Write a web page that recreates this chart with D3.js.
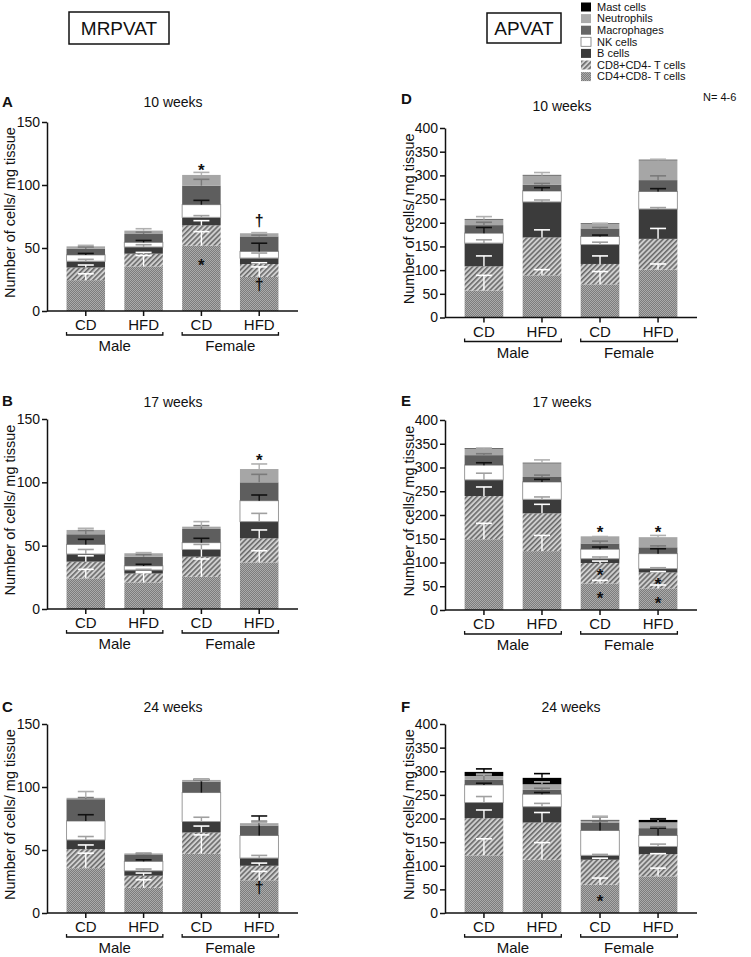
<!DOCTYPE html>
<html><head><meta charset="utf-8">
<script src="https://cdn.jsdelivr.net/npm/d3@7"></script>
<style>
body{margin:0;background:#fff}
svg{display:block}
text{font-family:"Liberation Sans",Arial,Helvetica,sans-serif;fill:#111}
</style>
</head><body><svg id="c" width="751" height="957"></svg>
<script>
// ---------- DATA ----------
const cellTypes = ["CD4+CD8- T cells","CD8+CD4- T cells","B cells","NK cells","Macrophages","Neutrophils","Mast cells"];
const diets = ["CD","HFD","CD","HFD"];
const sexes = ["Male","Female"];
const yTicksMRPVAT = [0,50,100,150];
const yTicksAPVAT = [0,50,100,150,200,250,300,350,400];
const panelTitles = {A:"10 weeks",B:"17 weeks",C:"24 weeks",D:"10 weeks",E:"17 weeks",F:"24 weeks"};

// segment values per bar (Male CD, Male HFD, Female CD, Female HFD), in cellTypes order
const valuesA = [[24.5,10,5,5,4.8,2,0],[35.4,10.1,5.3,3.7,6.6,2.7,0],[51.9,16.1,6.3,10.1,15.1,8.5,0],[27,10.3,4.7,5.3,11.9,2.5,0]];
const errorsA = [[5,2,1.5,1.2,1.5,0.8,0],[8.6,1,1.8,1.5,1.5,1.5,0],[11.1,3.7,1.4,3.4,5,2,0],[8,1,4,6.5,1,0.5,0]];
const valuesB = [[24.2,13.2,6,7.6,8,3.4,0],[21,7,2.8,3.2,7.3,2.7,0],[25.5,15.8,5.7,5.4,10.8,1.8,0],[36.8,19,13.2,16.5,14.5,10.5,0]];
const errorsB = [[7.1,4.6,3.6,4,3,1.3,0],[7.7,1.5,0.5,1.3,1.7,0.5,0],[14,9.5,4,3.4,2.6,4,0],[9.2,6.6,6.5,4.5,6.3,4,0]];
const valuesC = [[35.6,15.1,7.3,15,17.3,1.1,0],[20,9.6,3.9,7.5,5.5,0.8,0],[47,16.9,8.7,23,8.7,1.3,0],[26,11.5,6.1,17.9,7.9,1.9,0]];
const errorsC = [[11.9,3.3,2.7,5,1.3,5,0],[6.4,2.1,1.4,1.2,0.5,0.5,0],[15,5.1,3.4,10.4,1.5,0.5,0],[7,2.1,2.1,15.5,3.5,0.7,0]];
const valuesD = [[57,51,49,21,17,12,1],[89,80,75,23,13,20,1],[70,43,41,17,17,10,1],[101,65,63,37,24,42,1]];
const errorsD = [[32,22,7,12,6,6,0],[12,16,4,7,3,6,0],[27,17,5,3,2,1,0],[12,22,3,6,9,2,0]];
const valuesE = [[149,91,34,31,21,14,1],[124,79.5,29.5,36.5,10.5,29,1],[56,43,9,20,12,13.7,0.5],[45.6,33.4,8,31.6,13.4,20,0.5]];
const errorsE = [[33.5,19,14,5,3,1,0],[33,19,5,5.5,4,7,0],[6.5,4,3.6,4.6,5,1,0],[7,2,2,10.4,3,5,0]];
const valuesF = [[122,78.7,33.1,37.2,10.7,8.3,8.6],[112.7,78.8,33.5,26.4,9.2,11.9,13.5],[60,52.7,9.3,52.6,16.9,4.3,1.2],[77.5,47.1,16.2,23.2,15.6,12.4,5]];
const errorsF = [[35,17.3,12.7,3.6,10,4,6.4],[36.3,21.2,7,3.6,3.4,5,9],[14,3.3,2,29.4,2,8,0],[17.5,1,5,15.6,3,8,2]];

// significance symbols: bar index, y value, symbol
const marksA = [{bar:2,v:117,s:"*"},{bar:2,v:42,s:"*"},{bar:3,v:72,s:"†"},{bar:3,v:21,s:"†"}];
const marksB = [{bar:3,v:123,s:"*"}];
const marksC = [{bar:3,v:20,s:"†"}];
const marksD = [];
const marksE = [{bar:2,v:179,s:"*"},{bar:2,v:88,s:"*"},{bar:2,v:39,s:"*"},{bar:3,v:179,s:"*"},{bar:3,v:70,s:"*"},{bar:3,v:29.5,s:"*"}];
const marksF = [{bar:2,v:39,s:"*"}];

// ---------- STYLE / LAYOUT ----------
const svg = d3.select("#c");
const defs = svg.append("defs");
const p1 = defs.append("pattern").attr("id","checker").attr("width",2).attr("height",2).attr("patternUnits","userSpaceOnUse");
p1.append("rect").attr("width",2).attr("height",2).attr("fill","#7d7d7d");
p1.append("rect").attr("width",1).attr("height",1).attr("fill","#ababab");
p1.append("rect").attr("x",1).attr("y",1).attr("width",1).attr("height",1).attr("fill","#ababab");
const p2 = defs.append("pattern").attr("id","hatch").attr("width",3.6).attr("height",3.6)
  .attr("patternUnits","userSpaceOnUse").attr("patternTransform","rotate(45)");
p2.append("rect").attr("width",3.6).attr("height",3.6).attr("fill","#cfcfcf");
p2.append("line").attr("x1",0.8).attr("y1",0).attr("x2",0.8).attr("y2",3.6).attr("stroke","#6a6a6a").attr("stroke-width",1.6);

const fills = ["url(#checker)","url(#hatch)","#3b3b3b","#ffffff","#5e5e5e","#a6a6a6","#000000"];
const legendFills = ["url(#checker)","url(#hatch)","#3b3b3b","#ffffff","#666666","#ababab","#000000"];
const errColors = ["#ffffff","#ffffff","#a0a0a0","#111111","#7a7a7a","#b0b0b0","#000000"];

const panels = [
  {id:"A",vals:valuesA,errs:errorsA,marks:marksA,x0:47,x1:298,top:122,zero:311,max:150,ticks:yTicksMRPVAT,titleY:102,letterX:2,letterY:102,titleX:173,ylabX:10},
  {id:"B",vals:valuesB,errs:errorsB,marks:marksB,x0:47,x1:298,top:419,zero:609,max:150,ticks:yTicksMRPVAT,titleY:402,letterX:2,letterY:401,titleX:173,ylabX:10},
  {id:"C",vals:valuesC,errs:errorsC,marks:marksC,x0:47,x1:298,top:724,zero:913,max:150,ticks:yTicksMRPVAT,titleY:707,letterX:2,letterY:707,titleX:173,ylabX:10},
  {id:"D",vals:valuesD,errs:errorsD,marks:marksD,x0:445,x1:697,top:128,zero:317.5,max:400,ticks:yTicksAPVAT,titleY:106,letterX:401,letterY:99,titleX:562,ylabX:409},
  {id:"E",vals:valuesE,errs:errorsE,marks:marksE,x0:445,x1:697,top:420,zero:610,max:400,ticks:yTicksAPVAT,titleY:402,letterX:401,letterY:401,titleX:562,ylabX:409},
  {id:"F",vals:valuesF,errs:errorsF,marks:marksF,x0:445,x1:697,top:724,zero:913,max:400,ticks:yTicksAPVAT,titleY:707,letterX:401,letterY:707,titleX:571,ylabX:409}
];

function drawPanel(p){
  const g = svg.append("g");
  const x = d3.scaleBand().domain(d3.range(diets.length)).range([p.x0,p.x1]).paddingInner(0.334).paddingOuter(0.338);
  const y = d3.scaleLinear().domain([0,p.max]).range([p.zero,p.top]);
  const keys = d3.range(cellTypes.length);
  const series = d3.stack().keys(keys).value((d,k)=>d[k])(p.vals);
  const bw = x.bandwidth();

  series.forEach((s,i)=>{
    g.append("g").selectAll("rect").data(s).join("rect")
      .attr("x",(d,j)=>x(j)).attr("width",bw)
      .attr("y",d=>y(d[1])).attr("height",d=>Math.max(0,y(d[0])-y(d[1])))
      .attr("fill",fills[i])
      .attr("stroke",i===3?"#9a9a9a":"none").attr("stroke-width",i===3?1:0);
  });
  series.forEach((s,i)=>{
    s.forEach((d,j)=>{
      const e = p.errs[j][i];
      if(!e || p.vals[j][i]===0) return;
      const cx = x(j)+bw/2, y1=y(d[1]), y2=y(d[1]+e);
      const w = 8;
      g.append("line").attr("x1",cx).attr("x2",cx).attr("y1",y1).attr("y2",y2).attr("stroke",errColors[i]).attr("stroke-width",1.4);
      g.append("line").attr("x1",cx-w).attr("x2",cx+w).attr("y1",y2).attr("y2",y2).attr("stroke",errColors[i]).attr("stroke-width",1.6);
    });
  });
  const ax = g.append("g").attr("transform",`translate(${p.x0},0)`)
    .call(d3.axisLeft(y).tickValues(p.ticks).tickSize(5).tickSizeOuter(0).tickPadding(2));
  ax.select(".domain").attr("stroke","#111").attr("stroke-width",1.5);
  ax.selectAll(".tick line").attr("stroke","#111").attr("stroke-width",1.5);
  ax.selectAll(".tick text").attr("font-size",14).attr("font-family",null).style("fill","#111");
  g.append("line").attr("x1",p.x0).attr("x2",p.x1).attr("y1",p.zero).attr("y2",p.zero).attr("stroke","#111").attr("stroke-width",1.5);
  g.selectAll(".xt").data(diets).join("line").attr("class","xt")
    .attr("x1",(d,j)=>x(j)+bw/2).attr("x2",(d,j)=>x(j)+bw/2)
    .attr("y1",p.zero).attr("y2",p.zero+5).attr("stroke","#111").attr("stroke-width",1.5);
  g.selectAll(".xl").data(diets).join("text").attr("class","xl")
    .attr("x",(d,j)=>x(j)+bw/2).attr("y",p.zero+19).attr("text-anchor","middle").attr("font-size",15).text(d=>d);
  sexes.forEach((s,k)=>{
    const xa = x(2*k), xb = x(2*k+1)+bw, yb = p.zero+24;
    g.append("path").attr("d",`M${xa},${yb-3}V${yb}H${xb}V${yb-3}`).attr("fill","none").attr("stroke","#111").attr("stroke-width",1.3);
    g.append("text").attr("x",(xa+xb)/2).attr("y",yb+16).attr("text-anchor","middle").attr("font-size",15).text(s);
  });
  p.marks.forEach(m=>{
    g.append("text").attr("x",x(m.bar)+bw/2).attr("y",y(m.v)).attr("dy",m.s==="*"?"0.75em":"0.35em")
      .attr("text-anchor","middle").attr("font-size",m.s==="*"?17:16).attr("font-weight","bold").text(m.s);
  });
  g.append("text").attr("x",p.titleX).attr("y",p.titleY).attr("dy","0.35em").attr("text-anchor","middle").attr("font-size",14).text(panelTitles[p.id]);
  g.append("text").attr("x",p.letterX).attr("y",p.letterY).attr("dy","0.35em").attr("font-size",15).attr("font-weight","bold").text(p.id);
  g.append("text").attr("transform",`translate(${p.ylabX},${(p.top+p.zero)/2-4}) rotate(-90)`).attr("dy","0.35em")
    .attr("text-anchor","middle").attr("font-size",14.5).text("Number of cells/ mg tissue");
}
panels.forEach(drawPanel);

[["MRPVAT",69,12,100,32],["APVAT",487,13,74,30]].forEach(([t,bx,by,bw,bh])=>{
  svg.append("rect").attr("x",bx).attr("y",by).attr("width",bw).attr("height",bh).attr("fill","none").attr("stroke","#111").attr("stroke-width",1.5);
  svg.append("text").attr("x",bx+bw/2).attr("y",by+bh/2).attr("dy","0.36em").attr("text-anchor","middle").attr("font-size",19).text(t);
});

const legendOrder = cellTypes.map((c,i)=>i).reverse();
const lg = svg.append("g");
legendOrder.forEach((i,r)=>{
  const cy = 7 + r*11.6;
  lg.append("rect").attr("x",581).attr("y",cy-4.5).attr("width",10).attr("height",9).attr("fill",legendFills[i])
    .attr("stroke",i===3?"#777":"none").attr("stroke-width",0.8);
  lg.append("text").attr("x",597).attr("y",cy).attr("dy","0.35em").attr("font-size",11).text(cellTypes[i]);
});
svg.append("text").attr("x",703).attr("y",97).attr("dy","0.35em").attr("font-size",11).text("N= 4-6");
</script>
</body></html>
